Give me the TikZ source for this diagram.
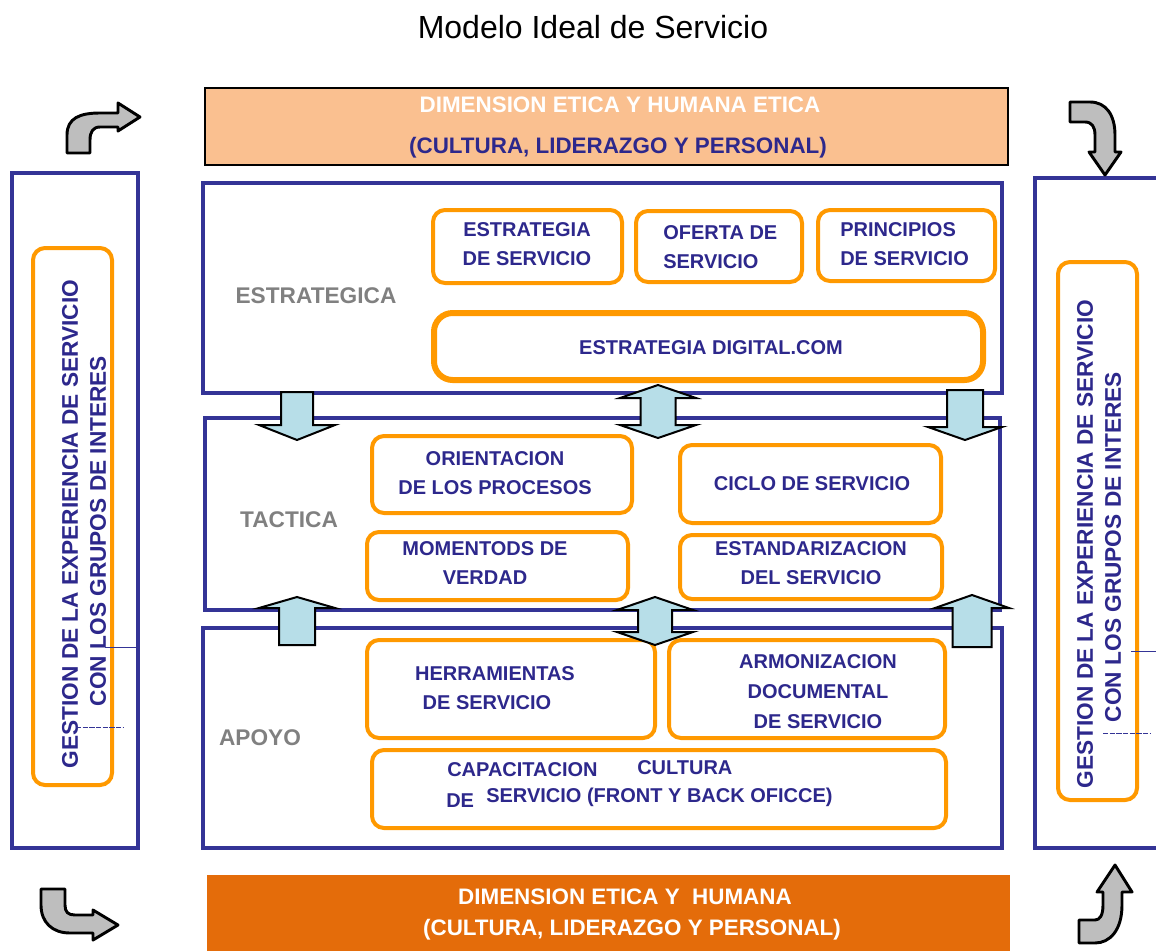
\documentclass[tikz,border=0pt]{standalone}
\usepackage{fontspec}
\setmainfont{Liberation Sans}
\usetikzlibrary{fit}

\definecolor{navy}{RGB}{52,52,150}
\definecolor{ink}{RGB}{45,40,140}
\definecolor{orng}{RGB}{255,153,0}
\definecolor{peach}{RGB}{250,192,144}
\definecolor{burnt}{RGB}{228,108,10}
\definecolor{aqua}{RGB}{183,222,232}
\definecolor{greyarr}{RGB}{190,190,190}
\definecolor{lblgrey}{RGB}{128,128,128}

% straight block arrow: centre x, tail y, head base y, tip y, shaft half width, head half width
\newcommand\arrsingle[6]{%
  \draw[barrow] ({#1-#5},#2) -- ({#1+#5},#2) -- ({#1+#5},#3) -- ({#1+#6},#3)
    -- (#1,#4) -- ({#1-#6},#3) -- ({#1-#5},#3) -- cycle;}
% two-headed block arrow: centre x, tip 1, base 1, base 2, tip 2, shaft half width, head half width
\newcommand\arrdouble[7]{%
  \draw[barrow] (#1,#2) -- ({#1+#7},#3) -- ({#1+#6},#3) -- ({#1+#6},#4) -- ({#1+#7},#4)
    -- (#1,#5) -- ({#1-#7},#4) -- ({#1-#6},#4) -- ({#1-#6},#3) -- ({#1-#7},#3) -- cycle;}

\begin{document}
\begin{tikzpicture}[x=0.75pt,y=-0.75pt,
  layer/.style={draw=navy,line width=2.8pt,inner sep=0pt},
  obox/.style={draw=orng,line width=3pt,rounded corners=9pt,fill=white,inner sep=0pt},
  txt/.style={text=ink,font=\fontsize{15}{22}\selectfont\bfseries,align=center,inner sep=0pt},
  lbl/.style={text=lblgrey,font=\fontsize{17}{20}\selectfont\bfseries,inner sep=0pt},
  side/.style={text=ink,font=\fontsize{17}{20}\selectfont\bfseries,rotate=90,inner sep=0pt},
  bann/.style={font=\fontsize{16.8}{20}\selectfont\bfseries,inner sep=0pt},
  barrow/.style={draw=black,fill=aqua,line width=1.5pt,line join=miter},
  carrow/.style={draw=black,fill=greyarr,line width=2.2pt,line join=round},
  thin/.style={draw=navy,line width=0.6pt}]
\useasboundingbox (0,0) rectangle (1156,950);

% title
\node[font=\fontsize{24}{28}\selectfont] (title) at (593,27) {Modelo Ideal de Servicio};

% ethical banners
\node[layer,draw=black,fill=peach,line width=1.6pt,fit={(205,88) (1008,165)}] (topband) {};
\node[bann,text=white] (topl1) at (620,105) {DIMENSION ETICA Y HUMANA ETICA};
\node[bann,text=ink] (topl2) at (618,148) {(CULTURA, LIDERAZGO Y PERSONAL)};

\node[fill=burnt,inner sep=0pt,fit={(207,875) (1010,955)}] (botband) {};
\node[bann,text=white] (botl1) at (625,897) {DIMENSION ETICA Y\ \ HUMANA};
\node[bann,text=white] (botl2) at (632,930) {(CULTURA, LIDERAZGO Y PERSONAL)};

% side panels
\node[layer,fit={(12,173) (138,848)}] (leftpanel) {};
\node[obox,fit={(33,248) (112,785)}] (leftin) {};
\node[side] (leftt1) at (70,524) {GESTION DE LA EXPERIENCIA DE SERVICIO};
\node[side] (leftt2) at (98,531) {CON LOS GRUPOS DE INTERES};
\draw[thin] (105,647) -- (138,647);
\draw[thin,dash pattern=on 4pt off 1pt] (76,727) -- (124,727);

\node[layer,fit={(1035,178) (1180,848)}] (rightpanel) {};
\node[obox,fit={(1058,262) (1137,800)}] (rightin) {};
\node[side] (rightt1) at (1085,544) {GESTION DE LA EXPERIENCIA DE SERVICIO};
\node[side] (rightt2) at (1113,547) {CON LOS GRUPOS DE INTERES};
\draw[thin] (1131,651) -- (1160,651);
\draw[thin,dash pattern=on 4pt off 1pt] (1103,733) -- (1150,733);

% strategic layer
\node[layer,fit={(203,183) (1002,393)}] (estr) {};
\node[lbl] (estrl) at (316,296) {ESTRATEGICA};
\node[obox,fit={(433,210) (622,283)}] (b1) {};
\node[txt] (b1t) at (527,244) {ESTRATEGIA\\DE SERVICIO};
\node[obox,fit={(636,211) (802,282)}] (b2) {};
\node[txt,align=left,anchor=west] (b2t) at (663,247) {OFERTA DE\\SERVICIO};
\node[obox,fit={(818,210) (995,281)}] (b3) {};
\node[txt,align=left,anchor=west] (b3t) at (840,244) {PRINCIPIOS\\DE SERVICIO};
\node[obox,line width=4.5pt,rounded corners=14pt,fit={(434,313) (983,380)}] (b4) {};
\node[txt] (b4t) at (711,348) {ESTRATEGIA DIGITAL.COM};

% tactical layer
\node[layer,fit={(205,418) (1000,610)}] (tact) {};
\node[lbl] (tactl) at (289,520) {TACTICA};
\node[obox,fit={(372,436) (632,513)}] (c1) {};
\node[txt] (c1t) at (495,473) {ORIENTACION\\DE LOS PROCESOS};
\node[obox,fit={(680,445) (941,523)}] (c2) {};
\node[txt] (c2t) at (812,484) {CICLO DE SERVICIO};
\node[obox,fit={(367,532) (628,600)}] (c3) {};
\node[txt] (c3t) at (485,563) {MOMENTODS DE\\VERDAD};
\node[obox,fit={(680,535) (942,599)}] (c4) {};
\node[txt] (c4t) at (811,563) {ESTANDARIZACION\\DEL SERVICIO};

% support layer
\node[layer,fit={(203,628) (1002,848)}] (apoy) {};
\node[lbl] (apoyl) at (260,738) {APOYO};
\node[obox,fit={(367,640) (655,738)}] (d1) {};
\node[txt] (d1t) at (495,688) {HERRAMIENTAS\\\hspace*{-12pt}DE SERVICIO};
\node[obox,fit={(669,640) (945,738)}] (d2) {};
\node[txt,font=\fontsize{15}{22.5}\selectfont\bfseries] (d2t) at (818,692) {ARMONIZACION\\DOCUMENTAL\\DE SERVICIO};
\node[obox,fit={(372,750) (946,828)}] (d3) {};
\node[txt,anchor=west] (d3a) at (447,770) {CAPACITACION};
\node[txt,anchor=west] (d3b) at (637,768) {CULTURA};
\node[txt,anchor=west] (d3c) at (446,801) {DE};
\node[txt,anchor=west] (d3d) at (486,797) {SERVICIO (FRONT Y BACK OFICCE)};

% block arrows between layers
\arrsingle{297}{392}{425}{440}{16}{38}
\arrdouble{658}{385}{398}{425}{438}{17.5}{38}
\arrsingle{965}{390}{427}{440}{18}{37}
\arrsingle{297}{645}{608}{597}{18}{38}
\arrdouble{655}{597}{610}{632}{645}{17}{38}
\arrsingle{972}{647}{608}{595}{19.5}{37}

% curved corner arrows
\draw[carrow] (67,153) -- (67,135) .. controls (67,118) and (80,113) .. (100,113)
  -- (118,113) -- (118,103) -- (140,117) -- (118,131) -- (118,127) -- (100,127)
  .. controls (93,127) and (90,132) .. (90,140) -- (90,153) -- cycle;
\draw[carrow] (1070,102) -- (1090,102) .. controls (1106,102) and (1115,115) .. (1115,135)
  -- (1115,152) -- (1121,152) -- (1105,175) -- (1089,152) -- (1095,152) -- (1095,135)
  .. controls (1095,127) and (1092,122) .. (1085,122) -- (1070,122) -- cycle;
\draw[carrow] (41,889) -- (65,889) -- (65,905) .. controls (65,912) and (68,915) .. (75,915)
  -- (93,915) -- (93,910) -- (118,925) -- (93,940) -- (93,933) -- (70,933)
  .. controls (52,933) and (41,922) .. (41,905) -- cycle;
\draw[carrow] (1079,920) -- (1095,920) .. controls (1100,920) and (1103,915) .. (1103,905)
  -- (1103,892) -- (1097,892) -- (1115,865) -- (1132,892) -- (1122,892) -- (1122,905)
  .. controls (1122,930) and (1110,943) .. (1095,943) -- (1079,943) -- cycle;
\end{tikzpicture}
\end{document}
